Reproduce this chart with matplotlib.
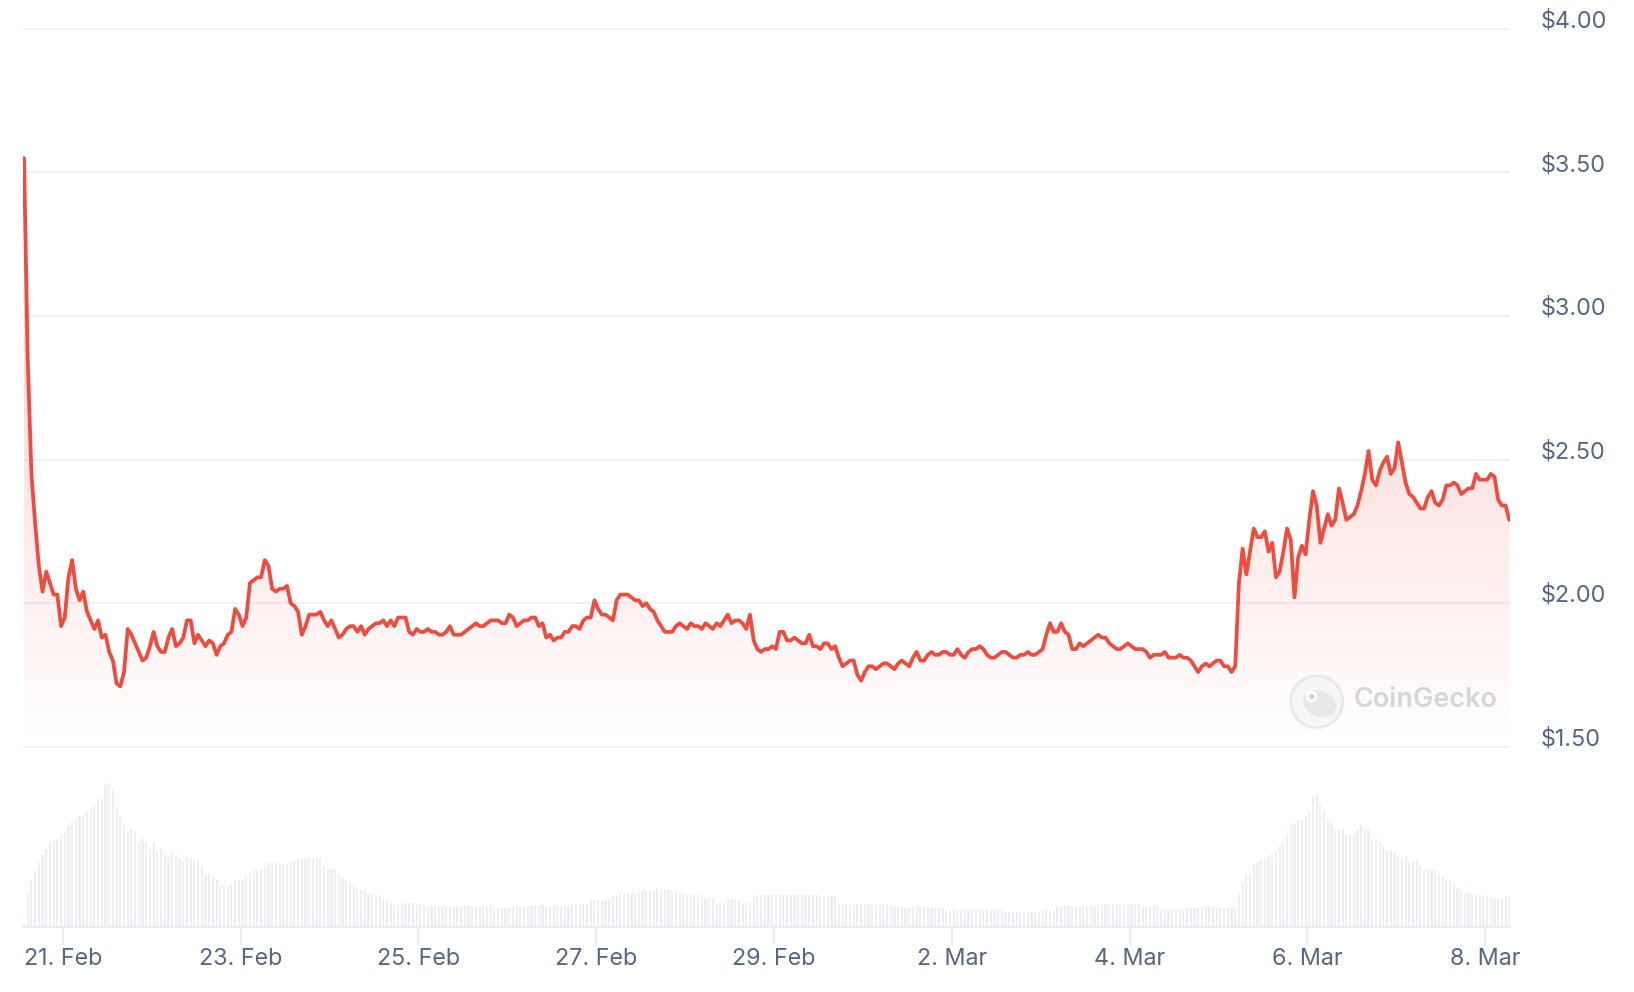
import matplotlib
matplotlib.use("Agg")
import matplotlib.pyplot as plt
import matplotlib.dates as mdates
import matplotlib.transforms as mtransforms
from matplotlib.patches import Circle, Ellipse
import numpy as np
import pandas as pd

# ---------------- data (hourly) ----------------
start_time = "2024-02-20 13:30"

price = [
    3.55, 2.85, 2.45, 2.28, 2.13, 2.04, 2.11, 2.07, 2.03, 2.03,
    1.92, 1.95, 2.09, 2.15, 2.05, 2.01, 2.04, 1.97, 1.94, 1.91,
    1.94, 1.88, 1.89, 1.83, 1.80, 1.72, 1.71, 1.76, 1.91, 1.89,
    1.86, 1.83, 1.80, 1.81, 1.85, 1.90, 1.85, 1.83, 1.83, 1.88,
    1.91, 1.85, 1.86, 1.88, 1.94, 1.94, 1.86, 1.89, 1.87, 1.85,
    1.87, 1.86, 1.82, 1.85, 1.86, 1.89, 1.90, 1.98, 1.96, 1.92,
    1.95, 2.07, 2.08, 2.09, 2.09, 2.15, 2.13, 2.05, 2.04, 2.05,
    2.05, 2.06, 2.00, 1.99, 1.97, 1.89, 1.92, 1.96, 1.96, 1.96,
    1.97, 1.94, 1.92, 1.94, 1.91, 1.88, 1.89, 1.91, 1.92, 1.92,
    1.90, 1.92, 1.89, 1.91, 1.92, 1.93, 1.93, 1.94, 1.92, 1.94,
    1.92, 1.95, 1.95, 1.95, 1.90, 1.89, 1.91, 1.90, 1.90, 1.91,
    1.90, 1.90, 1.89, 1.89, 1.90, 1.92, 1.89, 1.89, 1.89, 1.90,
    1.91, 1.92, 1.93, 1.92, 1.92, 1.93, 1.94, 1.94, 1.94, 1.93,
    1.93, 1.96, 1.95, 1.92, 1.93, 1.94, 1.94, 1.95, 1.95, 1.92,
    1.93, 1.88, 1.89, 1.87, 1.88, 1.88, 1.90, 1.90, 1.92, 1.92,
    1.91, 1.94, 1.95, 1.95, 2.01, 1.98, 1.96, 1.96, 1.95, 1.94,
    2.01, 2.03, 2.03, 2.03, 2.02, 2.01, 2.01, 1.99, 2.00, 1.98,
    1.97, 1.94, 1.92, 1.90, 1.90, 1.90, 1.92, 1.93, 1.92, 1.91,
    1.93, 1.92, 1.92, 1.91, 1.93, 1.92, 1.91, 1.93, 1.92, 1.94,
    1.96, 1.93, 1.94, 1.94, 1.93, 1.91, 1.96, 1.87, 1.84, 1.83,
    1.84, 1.84, 1.85, 1.84, 1.90, 1.90, 1.87, 1.87, 1.88, 1.87,
    1.86, 1.86, 1.89, 1.85, 1.85, 1.84, 1.86, 1.86, 1.84, 1.85,
    1.81, 1.78, 1.79, 1.80, 1.80, 1.75, 1.73, 1.76, 1.78, 1.78,
    1.77, 1.78, 1.79, 1.79, 1.78, 1.77, 1.79, 1.80, 1.79, 1.78,
    1.81, 1.83, 1.80, 1.80, 1.82, 1.83, 1.82, 1.82, 1.83, 1.83,
    1.82, 1.82, 1.84, 1.82, 1.81, 1.83, 1.84, 1.84, 1.85, 1.84,
    1.82, 1.81, 1.81, 1.82, 1.83, 1.83, 1.82, 1.81, 1.81, 1.82,
    1.82, 1.83, 1.82, 1.82, 1.83, 1.84, 1.89, 1.93, 1.90, 1.90,
    1.93, 1.90, 1.89, 1.84, 1.84, 1.86, 1.85, 1.86, 1.87, 1.88,
    1.89, 1.88, 1.88, 1.86, 1.85, 1.84, 1.84, 1.85, 1.86, 1.85,
    1.84, 1.84, 1.84, 1.83, 1.81, 1.82, 1.82, 1.82, 1.83, 1.81,
    1.81, 1.81, 1.82, 1.81, 1.81, 1.80, 1.78, 1.76, 1.78, 1.79,
    1.78, 1.79, 1.80, 1.80, 1.78, 1.78, 1.76, 1.78, 2.07, 2.19,
    2.10, 2.18, 2.26, 2.23, 2.23, 2.25, 2.18, 2.21, 2.09, 2.11,
    2.18, 2.26, 2.22, 2.02, 2.16, 2.20, 2.17, 2.29, 2.39, 2.34,
    2.21, 2.26, 2.31, 2.27, 2.29, 2.40, 2.35, 2.29, 2.30, 2.31,
    2.34, 2.39, 2.45, 2.53, 2.43, 2.41, 2.46, 2.49, 2.51, 2.45,
    2.47, 2.56, 2.49, 2.42, 2.38, 2.37, 2.35, 2.33, 2.33, 2.37,
    2.39, 2.35, 2.34, 2.36, 2.41, 2.41, 2.42, 2.41, 2.38, 2.39,
    2.40, 2.40, 2.45, 2.43, 2.43, 2.43, 2.45, 2.44, 2.36, 2.34,
    2.34, 2.29,
]

# relative hourly volume (bar heights, arbitrary units)
volume = [
    3, 34, 47, 57, 64, 72, 78, 85, 87, 88,
    93, 95, 101, 105, 108, 111, 112, 115, 118, 121,
    127, 128, 142, 144, 138, 118, 111, 102, 95, 98,
    95, 85, 88, 85, 78, 85, 75, 78, 72, 70,
    74, 72, 68, 65, 70, 69, 67, 65, 60, 52,
    53, 51, 47, 41, 41, 41, 43, 47, 47, 47,
    51, 54, 57, 57, 58, 61, 64, 65, 65, 63,
    63, 63, 65, 66, 68, 69, 69, 69, 69, 69,
    69, 61, 58, 58, 58, 53, 49, 47, 44, 41,
    38, 37, 37, 33, 33, 32, 31, 28, 27, 24,
    23, 23, 23, 24, 24, 24, 22, 23, 22, 21,
    21, 21, 21, 21, 21, 21, 21, 21, 21, 21,
    21, 21, 21, 21, 21, 21, 21, 19, 19, 19,
    19, 19, 21, 21, 21, 21, 21, 21, 21, 21,
    22, 21, 21, 21, 21, 21, 21, 21, 23, 23,
    23, 23, 23, 27, 27, 27, 27, 28, 28, 31,
    31, 34, 34, 34, 34, 34, 34, 37, 37, 37,
    37, 39, 37, 37, 37, 37, 37, 34, 34, 32,
    32, 32, 32, 30, 28, 28, 28, 24, 24, 24,
    28, 28, 28, 28, 24, 24, 24, 30, 32, 32,
    32, 32, 32, 32, 32, 32, 32, 32, 32, 32,
    32, 32, 32, 32, 32, 31, 31, 31, 31, 31,
    24, 23, 23, 23, 23, 23, 23, 23, 23, 23,
    23, 23, 23, 23, 21, 21, 21, 21, 19, 19,
    19, 21, 21, 21, 21, 19, 19, 19, 19, 17,
    17, 17, 17, 17, 17, 17, 17, 17, 17, 17,
    17, 17, 17, 17, 17, 15, 15, 15, 15, 15,
    15, 15, 15, 15, 15, 17, 17, 17, 17, 21,
    21, 21, 21, 21, 21, 21, 21, 21, 21, 21,
    23, 23, 23, 23, 23, 23, 23, 23, 23, 23,
    23, 23, 21, 21, 21, 21, 21, 17, 17, 17,
    17, 17, 17, 17, 19, 19, 19, 19, 19, 21,
    21, 21, 19, 19, 19, 19, 19, 19, 34, 44,
    52, 52, 63, 65, 67, 69, 71, 73, 75, 81,
    85, 93, 104, 103, 107, 107, 111, 117, 131, 133,
    124, 117, 107, 104, 97, 97, 98, 93, 93, 93,
    97, 102, 98, 97, 88, 88, 85, 81, 77, 77,
    75, 71, 68, 71, 65, 65, 67, 61, 57, 57,
    57, 57, 53, 51, 47, 47, 43, 39, 37, 34,
    34, 32, 32, 32, 31, 31, 29, 29, 28, 28,
    31, 31,
]

tick_dates = ["2024-02-21", "2024-02-23", "2024-02-25", "2024-02-27", "2024-02-29",
              "2024-03-02", "2024-03-04", "2024-03-06", "2024-03-08"]
tick_labels = ["21. Feb", "23. Feb", "25. Feb", "27. Feb", "29. Feb",
               "2. Mar", "4. Mar", "6. Mar", "8. Mar"]
price_ticks = [1.5, 2.0, 2.5, 3.0, 3.5, 4.0]
price_tick_labels = ["$1.50", "$2.00", "$2.50", "$3.00", "$3.50", "$4.00"]

# ---------------- style ----------------
plt.rcParams["font.family"] = ["Inter", "DejaVu Sans"]
RED = "#F04B3D"
GRID = "#EEF0F4"
TEXT = "#58667E"
BAR = "#EDEFF3"

W, H = 1634, 992
fig = plt.figure(figsize=(W / 100, H / 100), dpi=100)
fig.patch.set_facecolor("white")


def fx(px):
    return px / W


def fy(py):
    return 1 - py / H


x_left, x_right = 23, 1510
first_px = 24
px_per_hour = 3.704

times = pd.date_range(start_time, periods=len(price), freq="h")
t = mdates.date2num(times)
hour = 1 / 24.0
xlim = (t[0] - (first_px - x_left) / px_per_hour * hour,
        t[0] + (x_right - first_px) / px_per_hour * hour)

# price panel geometry: $1.50 at 746.7 px, 287.1 px per dollar
p_bot_val, p_top_val = 1.45, 4.05
def price_px(v):
    return 746.7 - (v - 1.5) * 287.1

top_px, bot_px = price_px(p_top_val), price_px(p_bot_val)
ax = fig.add_axes([fx(x_left), fy(bot_px), (x_right - x_left) / W, (bot_px - top_px) / H])
ax.set_xlim(*xlim)
ax.set_ylim(p_bot_val, p_top_val)
ax.axis("off")

for v in price_ticks:
    ax.axhline(v, color=GRID, lw=1.3, zorder=0)

# gradient fill under the line
poly = ax.fill_between(t, price, 1.5, color="none", lw=0)
rgb = matplotlib.colors.to_rgb(RED)
grad = np.zeros((256, 1, 4))
grad[..., 0], grad[..., 1], grad[..., 2] = rgb
grad[:, 0, 3] = np.linspace(0.0, 0.31, 256)
im = ax.imshow(grad, extent=[t[0], t[-1], 1.5, max(price)], origin="lower",
               aspect="auto", interpolation="bilinear", zorder=1)
im.set_clip_path(poly.get_paths()[0], transform=ax.transData)
ax.set_xlim(*xlim)
ax.set_ylim(p_bot_val, p_top_val)

ax.plot(t, price, color=RED, lw=2.7, solid_joinstyle="round", solid_capstyle="round", zorder=3)

# y labels (right side, slightly above gridlines)
lab_trans = mtransforms.blended_transform_factory(ax.transAxes, ax.transData) + \
    mtransforms.ScaledTranslation(31 / 100, 7.5 / 100, fig.dpi_scale_trans)
for v, lab in zip(price_ticks, price_tick_labels):
    ax.text(1.0, v, lab, transform=lab_trans, ha="left", va="center",
            fontsize=16.8, color=TEXT, clip_on=False)

# ---------------- volume panel ----------------
vol_bot = 926.7
vol_h = 170
axv = fig.add_axes([fx(x_left), fy(vol_bot), (x_right - x_left) / W, vol_h / H])
axv.set_xlim(*xlim)
axv.set_ylim(0, vol_h)
axv.bar(t, volume, width=0.58 * hour, color=BAR, lw=0, align="center")
for s in ["top", "left", "right"]:
    axv.spines[s].set_visible(False)
axv.spines["bottom"].set_color("#E8EBF0")
axv.spines["bottom"].set_linewidth(1.3)
axv.set_yticks([])
axv.set_xticks(mdates.date2num(pd.to_datetime(tick_dates)), tick_labels)
axv.tick_params(axis="x", length=13, width=1.3, color="#E8EBF0", pad=2,
                labelsize=16.8, labelcolor=TEXT)
axv.patch.set_alpha(0)

# ---------------- watermark ----------------
ident = mtransforms.IdentityTransform()
cx, cy = 1316.7, H - 701.7
fig.add_artist(Circle((cx, cy), 26, transform=ident, facecolor="#F5F5F5",
                      edgecolor="#E6E6E6", lw=2.2, alpha=0.8, zorder=5))
fig.add_artist(Ellipse((cx + 3, cy - 2), 34, 26, angle=-20, transform=ident,
                       facecolor="#E6E6E6", edgecolor="none", alpha=0.85, zorder=6))
fig.add_artist(Circle((cx - 5, cy + 5), 5.5, transform=ident, facecolor="white",
                      edgecolor="none", zorder=7))
fig.add_artist(Circle((cx - 5, cy + 5), 2.8, transform=ident, facecolor="#D2D2D2",
                      edgecolor="none", zorder=8))
fig.text(fx(1354), fy(700), "CoinGecko", ha="left", va="center", fontsize=19.5,
         fontweight="semibold", color="#D6D6D6", zorder=9)

fig.savefig("out.png", dpi=100, facecolor="white")
